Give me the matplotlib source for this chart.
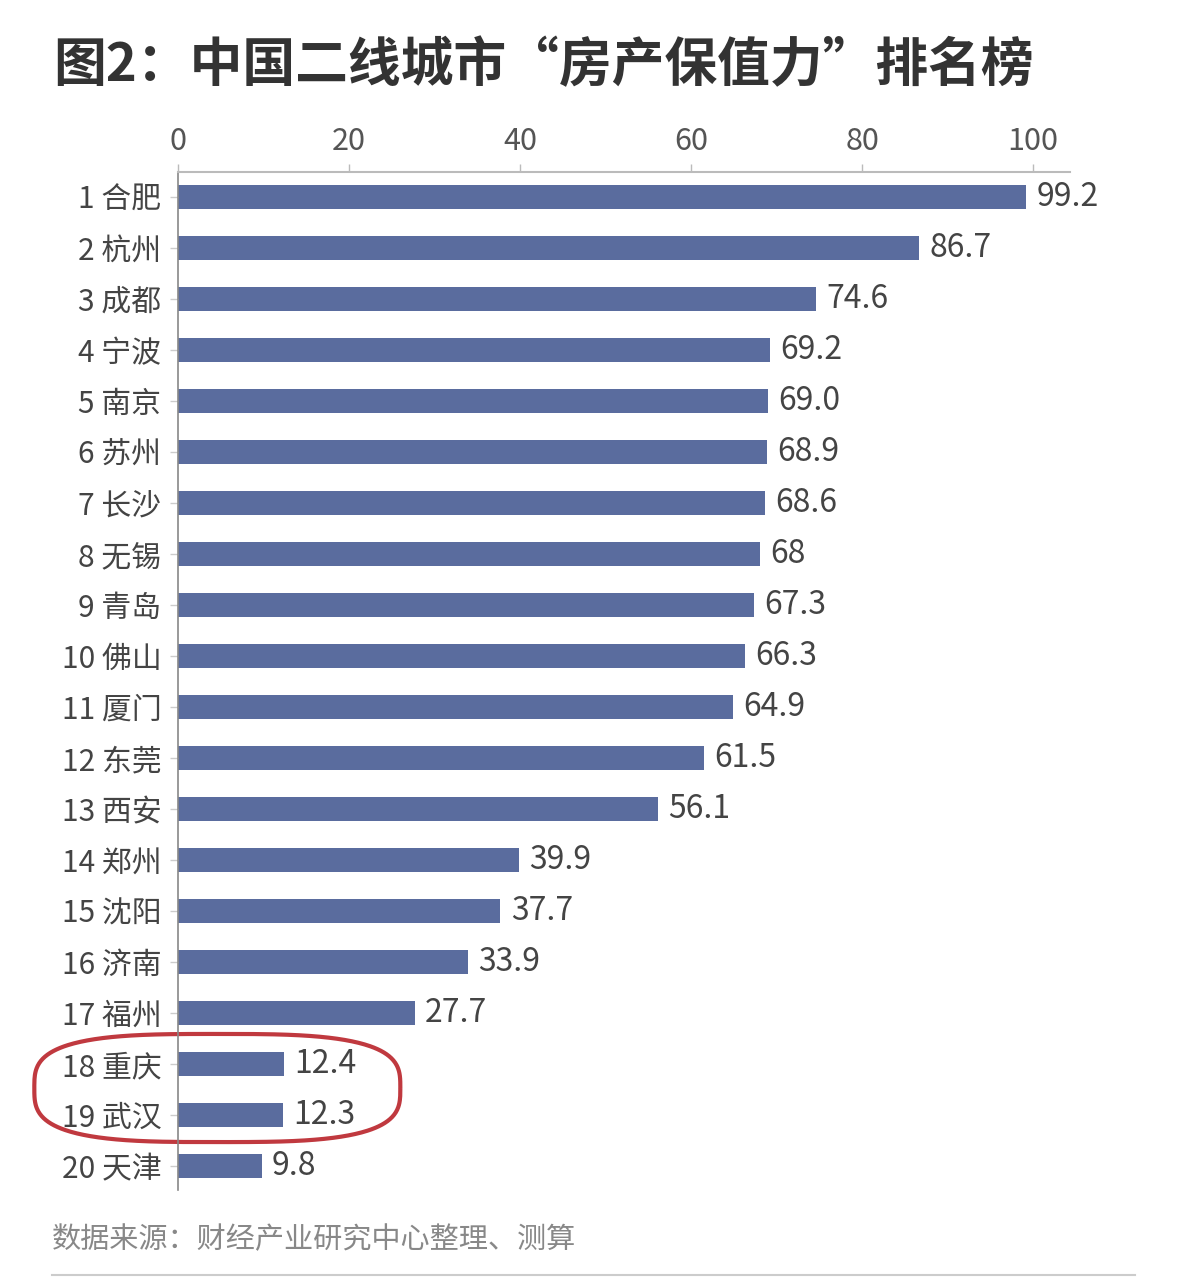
import matplotlib
matplotlib.use("Agg")
import numpy as np
import matplotlib.pyplot as plt
from matplotlib.patches import PathPatch
from matplotlib.path import Path
from matplotlib.lines import Line2D

plt.rcParams['font.family'] = ['Noto Sans CJK SC', 'DejaVu Sans']

ranks = list(range(1, 21))
cities = ["合肥", "杭州", "成都", "宁波", "南京", "苏州", "长沙", "无锡", "青岛", "佛山",
          "厦门", "东莞", "西安", "郑州", "沈阳", "济南", "福州", "重庆", "武汉", "天津"]
values = [99.2, 86.7, 74.6, 69.2, 69.0, 68.9, 68.6, 68, 67.3, 66.3,
          64.9, 61.5, 56.1, 39.9, 37.7, 33.9, 27.7, 12.4, 12.3, 9.8]
value_labels = ["99.2", "86.7", "74.6", "69.2", "69.0", "68.9", "68.6", "68", "67.3", "66.3",
                "64.9", "61.5", "56.1", "39.9", "37.7", "33.9", "27.7", "12.4", "12.3", "9.8"]
xticks = [0, 20, 40, 60, 80, 100]
title = "图2：中国二线城市“房产保值力”排名榜"
source = "数据来源：财经产业研究中心整理、测算"

bar_color = "#5a6c9e"
text_color = "#444444"

fig = plt.figure(figsize=(11.85, 12.8), dpi=100)
ax = fig.add_axes([0.1502, 0.0703, 0.7527, 0.7953])

ypos = list(range(len(cities)))
ax.barh(ypos, values, height=0.48, color=bar_color)
ax.set_xlim(0, 104.3)
ax.set_ylim(19.47, -0.49)

for y, v, lab in zip(ypos, values, value_labels):
    ax.text(v + 1.2, y, lab, va='center', ha='left', fontsize=23, color=text_color)

ax.set_yticks(ypos)
ax.set_yticklabels([f"{r} {c}" for r, c in zip(ranks, cities)], fontsize=21.5, color=text_color)
ax.xaxis.tick_top()
ax.set_xticks(xticks)
ax.set_xticklabels([str(t) for t in xticks], fontsize=22, color="#555555")
ax.tick_params(axis='x', length=6, color="#bbbbbb", width=1, pad=5)
ax.tick_params(axis='y', length=6, color="#cccccc", width=1, pad=6)

for s in ['right', 'bottom']:
    ax.spines[s].set_visible(False)
ax.spines['top'].set_color("#bbbbbb")
ax.spines['top'].set_linewidth(1.5)
ax.spines['left'].set_color("#888888")
ax.spines['left'].set_linewidth(1.2)

# red hand-drawn highlight (rounded superellipse) around rows 18/19
cx, cy, a, b, n = 4.6, 17.47, 21.4, 1.06, 3.2
t = np.linspace(0, 2 * np.pi, 400)
px = cx + a * np.sign(np.cos(t)) * np.abs(np.cos(t)) ** (2 / n)
py = cy + b * np.sign(np.sin(t)) * np.abs(np.sin(t)) ** (2 / n)
hl = PathPatch(Path(np.column_stack([px, py])), fill=False, edgecolor="#c0393f",
               linewidth=3, clip_on=False, transform=ax.transData)
ax.add_patch(hl)

fig.text(0.045, 0.949, title, fontsize=38, fontweight='bold', color="#333333",
         ha='left', va='center')
fig.text(0.044, 0.031, source, fontsize=21, color="#888888", ha='left', va='center')
fig.add_artist(Line2D([0.044, 0.958], [0.004, 0.004], color="#cccccc", linewidth=1.5,
                      transform=fig.transFigure))

fig.savefig("out.png", dpi=100, facecolor="white")
